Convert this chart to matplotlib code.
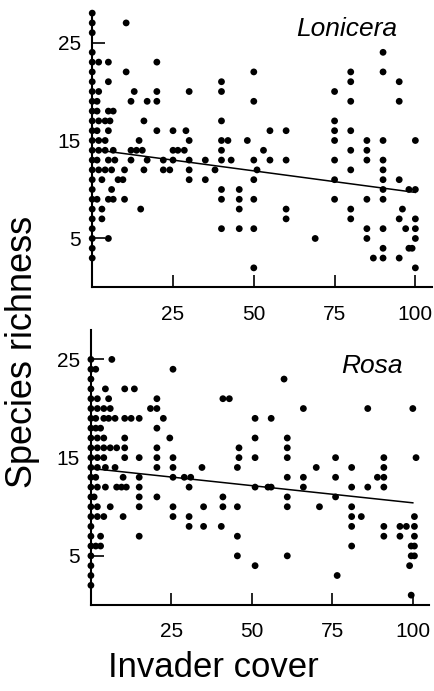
import matplotlib
matplotlib.use("Agg")
import matplotlib.pyplot as plt
import numpy as np

plt.rcParams['font.family'] = ['Liberation Sans', 'DejaVu Sans']

# Lonicera panel (cover %, species richness), one line per richness value
lon_cover = [
    0, 0, 10.5, 0, 0, 90,
    0, 2, 5, 20,
    0, 10.5, 50, 80, 90,
    0, 5, 40, 80, 95,
    0, 2, 13, 20, 30, 40, 75,
    0, 1.5, 12, 17, 20, 50, 80, 95,
    0, 1.5, 5, 6.5,
    0, 2, 4, 5.5, 16, 40, 75,
    0, 1.5, 5, 20, 25, 29, 55, 60, 75, 80,
    0, 2, 4, 14.5, 30, 40, 42, 48, 75, 85, 90, 100,
    0, 2, 4, 6.5, 12, 13.7, 15.5, 25, 26.5, 28.5, 40, 53, 80, 85,
    0, 1.5, 5, 7, 12, 17, 22, 25, 30, 35, 40, 43, 50, 55, 60, 75, 85, 90,
    0, 2, 4, 6, 10, 16, 22, 24, 30, 38, 51, 80, 90,
    0, 3, 8, 9.5, 30, 35, 50, 75, 90, 95,
    0, 6, 40, 45.5, 90, 98, 100,
    0, 1.5, 5, 6.5, 10, 40, 45.5, 50, 75, 85, 90,
    0, 3, 15, 45.5, 60, 80, 96,
    0, 3, 60, 80, 95, 100,
    0, 40, 45.5, 50, 85, 90, 97, 100,
    0, 5, 69, 85, 100,
    0, 90, 98, 99,
    0, 87, 90, 95,
    50, 100,
]
lon_rich = (
    [28, 27, 27, 26, 24, 24]
    + [23] * 4
    + [22] * 5
    + [21] * 5
    + [20] * 7
    + [19] * 8
    + [18] * 4
    + [17] * 7
    + [16] * 10
    + [15] * 12
    + [14] * 14
    + [13] * 18
    + [12] * 13
    + [11] * 10
    + [10] * 7
    + [9] * 11
    + [8] * 7
    + [7] * 6
    + [6] * 8
    + [5] * 5
    + [4] * 4
    + [3] * 4
    + [2] * 2
)

# Rosa panel
rosa_cover = [
    0, 6.5,
    0, 1.5, 25.5,
    0, 60,
    0, 4.5, 10.5, 13.5,
    0, 2, 5.5, 20.5, 41, 43,
    0, 2, 4, 6, 18.5, 20.5, 66, 86, 100,
    0, 1.5, 4, 5.5, 7.5, 10.5, 12.5, 15, 22.5, 51, 56,
    0, 1.5, 3, 20.5,
    0, 2, 4, 10.5, 24.5, 51, 61,
    0, 2, 4, 6, 8, 10.5, 20.5, 46, 61,
    0, 2, 4, 10.5, 15, 20.5, 25.5, 46, 51, 61, 76, 91, 101,
    0, 2, 4.5, 7.5, 20.5, 25.5, 34.5, 45.5, 70, 81, 91,
    0, 1.5, 10, 15, 25.5, 29, 31, 61, 66, 76, 89, 91,
    0, 2, 4.5, 8, 9.5, 11, 15, 30.5, 51, 55, 56, 66, 81, 86, 91,
    0, 1, 15, 20.5, 41, 61, 76,
    0, 2, 6, 15, 25.5, 35, 41, 45.5, 61, 71, 81,
    0, 2, 4, 10, 25.5, 30.5, 81, 84, 100.5,
    0, 30.5, 35, 40.5, 81, 91, 96, 98, 100.5,
    0, 3, 15, 45.5, 91, 96, 100.5,
    0, 1.5, 3, 81, 99.5, 100.5,
    0, 45.5, 61, 99.5, 100.5,
    0, 51, 99,
    0, 76.5,
    0,
    99.5,
]
rosa_rich = (
    [25] * 2
    + [24] * 3
    + [23] * 2
    + [22] * 4
    + [21] * 6
    + [20] * 9
    + [19] * 11
    + [18] * 4
    + [17] * 7
    + [16] * 9
    + [15] * 13
    + [14] * 11
    + [13] * 12
    + [12] * 15
    + [11] * 7
    + [10] * 11
    + [9] * 9
    + [8] * 9
    + [7] * 7
    + [6] * 6
    + [5] * 5
    + [4] * 3
    + [3] * 2
    + [2] * 1
    + [1] * 1
)

# fitted lines (intercept, value at cover = 100)
lon_fit = [14.1, 9.7]
rosa_fit = [13.9, 10.4]

# panel name and where it sits (data coords, baseline)
panels = [
    ('Lonicera', lon_cover, lon_rich, lon_fit, (78.7, 25.7)),
    ('Rosa', rosa_cover, rosa_rich, rosa_fit, (87.3, 23.6)),
]

fig = plt.figure(figsize=(4.35, 6.91), dpi=100)
ax_top = fig.add_axes([0.212, 0.584, 0.78, 0.397])
ax_bot = fig.add_axes([0.209, 0.1245, 0.777, 0.398])

for ax, (name, cover, rich, fit, pos) in zip([ax_top, ax_bot], panels):
    ax.scatter(cover, rich, s=24, color='black', edgecolors='none', clip_on=False, zorder=3)
    ax.plot([0, 100], fit, color='black', lw=1.1, zorder=2)
    ax.set_xlim(0, 105)
    ax.set_ylim(0, 28)
    ax.set_xticks([25, 50, 75, 100])
    ax.set_yticks([5, 15, 25])
    for s in ['top', 'right']:
        ax.spines[s].set_visible(False)
    for s in ['left', 'bottom']:
        ax.spines[s].set_linewidth(1.5)
    ax.tick_params(direction='in', length=9, width=1.2, labelsize=15)
    ax.tick_params(axis='x', pad=12.5)
    ax.tick_params(axis='y', pad=8)
    ax.text(pos[0], pos[1], name, style='italic', fontsize=19,
            ha='center', va='baseline')

fig.text(0.052, 0.49, 'Species richness', rotation=90, fontsize=26,
         ha='center', va='center')
fig.text(0.49, 0.034, 'Invader cover', fontsize=25, ha='center', va='center')

fig.savefig('out.png', dpi=100)
